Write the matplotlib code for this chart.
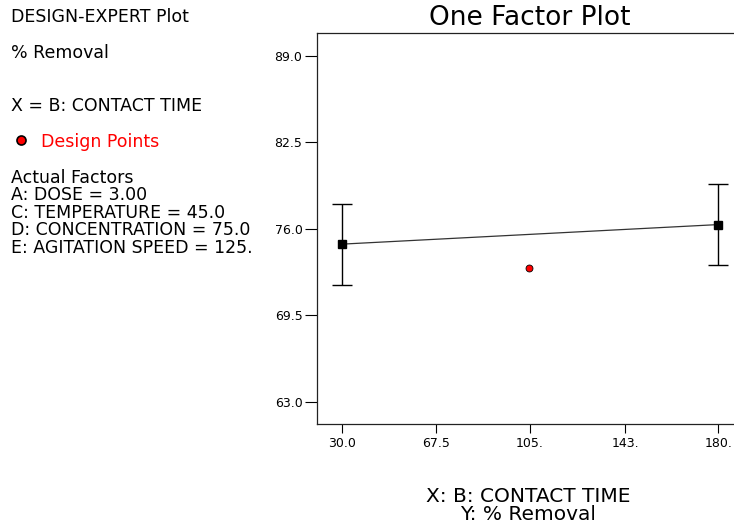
import matplotlib.pyplot as plt

plt.rcParams["font.family"] = ["DejaVu Sans"]

# Fitted means at the two levels of contact time, with their error bars
contact_time = [30.0, 180.0]
mean_removal = [74.85, 76.32]
error_half = [3.05, 3.05]

# Design point shown in red
design_x = [104.5]
design_y = [73.05]

x_ticks = [30.0, 67.5, 105.0, 143.0, 180.0]
x_tick_labels = ["30.0", "67.5", "105.", "143.", "180."]
y_ticks = [63.0, 69.5, 76.0, 82.5, 89.0]
y_tick_labels = ["63.0", "69.5", "76.0", "82.5", "89.0"]

side_lines = [
    ("DESIGN-EXPERT Plot", 17),
    ("% Removal", 53),
    ("X = B: CONTACT TIME", 106),
    ("Actual Factors", 178),
    ("A: DOSE = 3.00", 195),
    ("C: TEMPERATURE = 45.0", 213),
    ("D: CONCENTRATION = 75.0", 230),
    ("E: AGITATION SPEED = 125.", 248),
]

W, H = 734, 527
fig = plt.figure(figsize=(W / 100, H / 100), dpi=100)

left, right, top, bottom = 317, 734, 33, 424
ax = fig.add_axes([left / W, 1 - bottom / H, (right - left) / W, (bottom - top) / H])

ax.plot(contact_time, mean_removal, color="#333333", linewidth=0.9, zorder=2)
ax.errorbar(
    contact_time, mean_removal, yerr=error_half, fmt="none",
    ecolor="black", elinewidth=1.0, capsize=7, capthick=1.0, zorder=3,
)
ax.plot(contact_time, mean_removal, "s", color="black", markersize=6, zorder=4)
ax.plot(design_x, design_y, "o", color="red", markeredgecolor="black",
        markeredgewidth=0.6, markersize=5, zorder=4)

ax.set_xlim(20.2, 186.2)
ax.set_ylim(61.35, 90.7)
ax.set_xticks(x_ticks)
ax.set_xticklabels(x_tick_labels)
ax.set_yticks(y_ticks)
ax.set_yticklabels(y_tick_labels)
ax.tick_params(axis="y", direction="out", length=8.5, width=0.8, pad=2, labelsize=9)
ax.tick_params(axis="x", direction="out", length=6.5, width=0.8, pad=3, labelsize=9)
ax.spines["right"].set_visible(False)
for s in ["left", "top", "bottom"]:
    ax.spines[s].set_linewidth(0.9)
    ax.spines[s].set_color("#222222")

fig.text(530 / W, 1 - 18 / H, "One Factor Plot", ha="center", va="center", fontsize=19)

for txt, y in side_lines:
    fig.text(11 / W, 1 - y / H, txt, ha="left", va="center", fontsize=12.5)

fig.text(41 / W, 1 - 142 / H, "Design Points", ha="left", va="center",
         fontsize=12.5, color="red")
fig.lines.append(plt.Line2D([21 / W], [1 - 140 / H], marker="o", markersize=6.5,
                            color="red", markeredgecolor="black",
                            markeredgewidth=1.2, transform=fig.transFigure))

fig.text(528 / W, 1 - 496 / H, "X: B: CONTACT TIME", ha="center", va="center", fontsize=14.5)
fig.text(528 / W, 1 - 515 / H, "Y: % Removal", ha="center", va="center", fontsize=14.5)

fig.savefig("out.png", dpi=100)
